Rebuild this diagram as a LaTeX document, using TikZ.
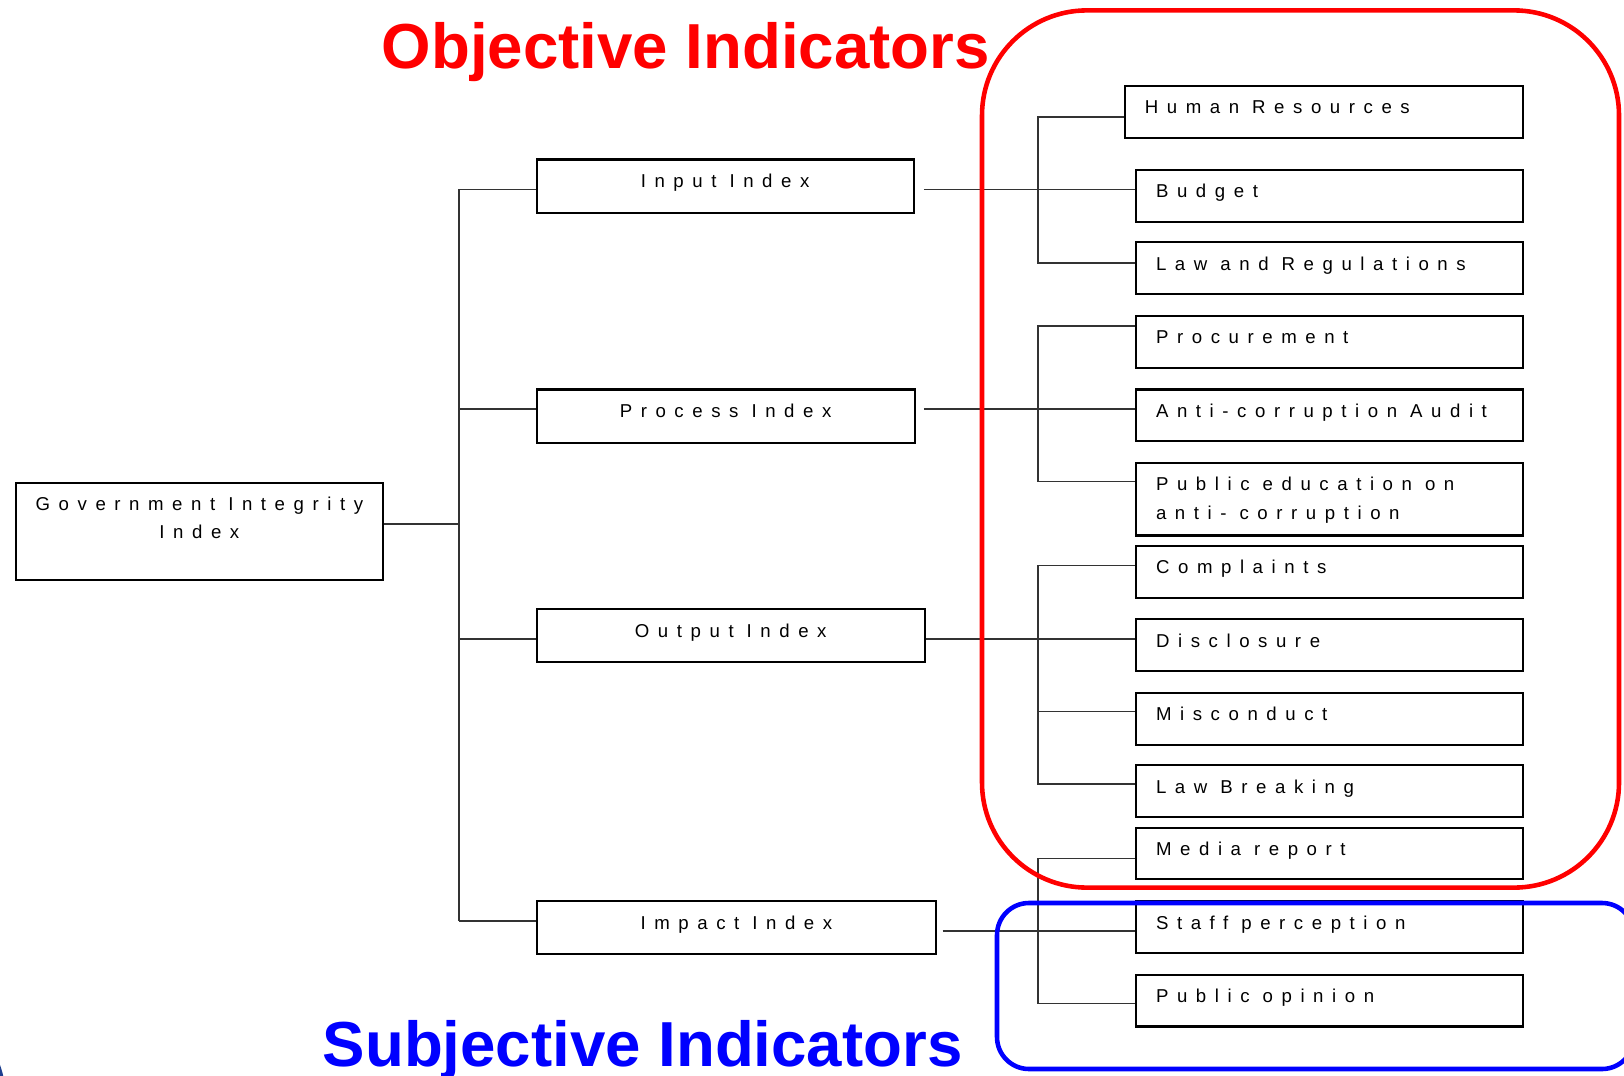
\documentclass[tikz,border=0pt]{standalone}
\usepackage{fontspec}
\newfontfamily\boxfont[LetterSpace=46]{Liberation Sans}
\newfontfamily\titlefont{Liberation Sans}
\definecolor{cornerblue}{HTML}{1F3F8F}
\newcommand{\wsp}{\hspace{0.7em}}

\tikzset{
 idxbox/.style={draw, line width=0.6pt, inner sep=0pt, anchor=north west, align=center,
   text height=2.8mm, text depth=2.55mm,
   font={\boxfont\fontsize{5.3pt}{8pt}\selectfont}},
 subbox/.style={draw, line width=0.6pt, inner xsep=2mm, inner ysep=0pt, anchor=north west,
   align=left, text width=34.65mm, text height=2.8mm, text depth=2.38mm,
   font={\boxfont\fontsize{5.3pt}{8pt}\selectfont}},
 wire/.style={line width=0.45pt, black!80},
 frame/.style={line width=1.3pt},
 title/.style={inner sep=0pt, anchor=base west, font={\titlefont\bfseries\fontsize{18.1pt}{20pt}\selectfont}}
}

\begin{document}
\begin{tikzpicture}[x=0.1mm, y=-0.1mm]
\useasboundingbox (0,0) rectangle (1624,1076);

% left side
\node[idxbox, text width=36.77mm, text depth=6.94mm] (gii) at (14.5,481.6) {Government\wsp Integrity\\Index};
\node[idxbox, text width=37.7mm] (input) at (535.5,158.5) {Input\wsp Index};
\node[idxbox, text width=37.8mm] (process) at (535.5,388.4) {Process\wsp Index};
\node[idxbox, text width=38.84mm, text depth=2.48mm] (output) at (535.5,608) {Output\wsp Index};
\node[idxbox, text width=39.97mm, text depth=2.48mm] (impact) at (535.5,900) {Impact\wsp Index};

% right side
\node[subbox, text width=35.77mm] (hr) at (1123.8,84.9) {Human\wsp Resources};
\foreach \nm/\yy/\txt in {budget/168.8/Budget, law/241.3/Law\wsp and\wsp Regulations,
  proc/314.9/Procurement, anti/388.4/Anti-corruption\wsp Audit, compl/544.8/Complaints,
  discl/618.3/Disclosure, misc/691.8/Misconduct, lawbr/764.3/Law\wsp Breaking,
  media/826.5/Media\wsp report, staff/900/Staff\wsp perception, pubop/973.6/Public\wsp opinion}
  \node[subbox] (\nm) at (1135,\yy) {\txt};
\node[subbox, text depth=4.45mm] (pubedu) at (1135,461.9) {Public\wsp education\wsp on\\anti-\wsp corruption};

% trunk
\coordinate (tr) at (458.8,0);
\coordinate (br) at (1037.8,0);
\draw[wire] (gii.east |- 0,524) -- (tr |- 0,524);
\draw[wire] (tr |- 0,189.5) -- (tr |- 0,920.7);
\draw[wire] (tr |- 0,189.5) -- (input.west |- 0,189.5);
\draw[wire] (tr |- 0,409.1) -- (process.west |- 0,409.1);
\draw[wire] (tr |- 0,639) -- (output.west |- 0,639);
\draw[wire] (tr |- 0,920.7) -- (impact.west |- 0,920.7);

% index to indicators
\draw[wire] ([xshift=0.93mm]input.east |- 0,189.5) -- (budget.west |- 0,189.5);
\draw[wire] ([xshift=0.83mm]process.east |- 0,409.1) -- (anti.west |- 0,409.1);
\draw[wire] (output.east |- 0,639) -- (discl.west |- 0,639);
\draw[wire] ([xshift=0.52mm]impact.east |- 0,931) -- (staff.west |- 0,931);

\draw[wire] (hr.west |- 0,117) -- (br |- 0,117) -- (br |- 0,263) -- (law.west |- 0,263);
\draw[wire] (proc.west |- 0,326.2) -- (br |- 0,326.2) -- (br |- 0,481.6) -- (pubedu.west |- 0,481.6);
\draw[wire] (compl.west |- 0,565.5) -- (br |- 0,565.5) -- (br |- 0,784) -- (lawbr.west |- 0,784);
\draw[wire] (misc.west |- 0,711.5) -- (br |- 0,711.5);
\draw[wire] (media.west |- 0,858.6) -- (br |- 0,858.6) -- (br |- 0,1003.6) -- (pubop.west |- 0,1003.6);

% frames and titles
\draw[frame, red, rounded corners=10.5mm] (982,10.4) rectangle (1619,887.6);
\draw[frame, blue, rounded corners=3.2mm] (997,903) rectangle (1634,1069);
\node[title, text=red] (objective) at (381,68.4) {Objective Indicators};
\node[title, text=blue] (subjective) at (322,1066) {Subjective Indicators};

\fill[cornerblue] (-100,1100) circle (10.6mm);
\end{tikzpicture}
\end{document}
